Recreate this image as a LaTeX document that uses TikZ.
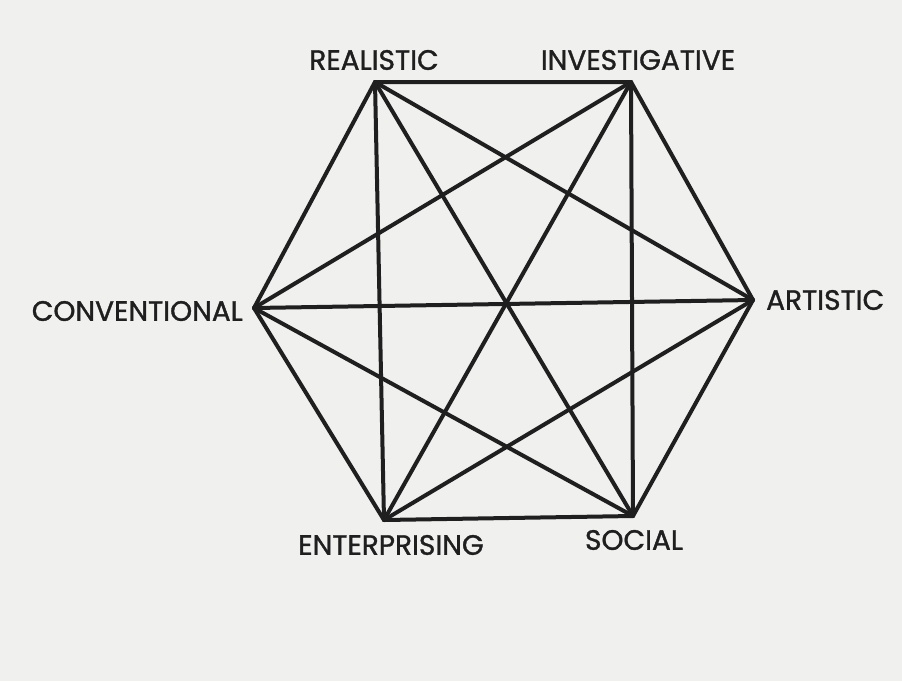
\documentclass[tikz,border=0pt]{standalone}
\usepackage{fontspec}
\setmainfont{Poppins}
\newfontfamily\typefont{Poppins}[FakeBold=1.2]
\definecolor{paper}{rgb}{0.94,0.94,0.935}
\definecolor{ink}{rgb}{0.12,0.12,0.12}
\begin{document}
\begin{tikzpicture}[
    x=1pt, y=-1pt,
    edge/.style={draw=ink, line width=4pt, line join=round, line cap=round},
    type/.style={font=\typefont\fontsize{28}{32}\selectfont, text=ink, inner sep=0pt}
]

% Page background
\fill[paper] (0,0) rectangle (902,681);
\useasboundingbox (0,0) rectangle (902,681);

% Corners of the hexagon
\coordinate (R) at (375,82);
\coordinate (I) at (631,82);
\coordinate (A) at (753,300);
\coordinate (S) at (633,516);
\coordinate (E) at (384,520);
\coordinate (C) at (254,308);

% Type labels
\node[type] (lR) at (374,60) {REALISTIC};
\node[type] (lI) at (638,60) {INVESTIGATIVE};
\node[type, anchor=east] (lC) at (243,311) {CONVENTIONAL};
\node[type, anchor=west] (lA) at (766,300) {ARTISTIC};
\node[type] (lE) at (391,545) {ENTERPRISING};
\node[type] (lS) at (634,540) {SOCIAL};

% Outer hexagon
\draw[edge] (R) -- (I) -- (A) -- (S) -- (E) -- (C) -- cycle;

% Diagonals
\draw[edge] (R) -- (A);
\draw[edge] (R) -- (S);
\draw[edge] (R) -- (E);
\draw[edge] (I) -- (S);
\draw[edge] (I) -- (E);
\draw[edge] (I) -- (C);
\draw[edge] (A) -- (E);
\draw[edge] (A) -- (C);
\draw[edge] (S) -- (C);

\end{tikzpicture}
\end{document}
